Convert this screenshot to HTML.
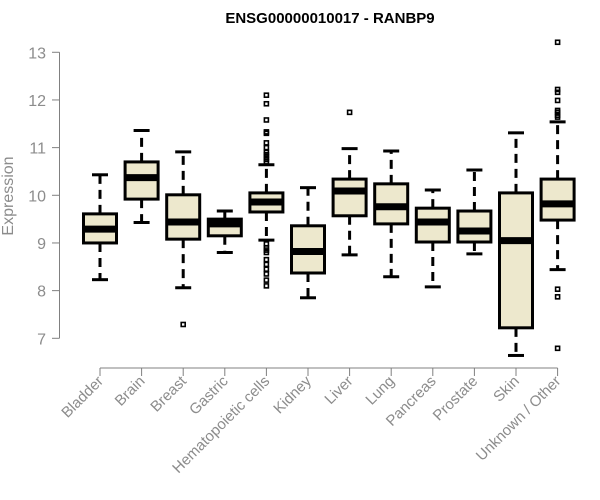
<!DOCTYPE html>
<html><head><meta charset="utf-8"><style>
html,body{margin:0;padding:0;background:#fff;}
svg{display:block;font-family:"Liberation Sans",Arial,sans-serif;}
</style></head><body>
<svg id="chart" width="600" height="500" viewBox="0 0 600 500">
<text x="330" y="23" text-anchor="middle" font-size="15" font-weight="bold" fill="#000">ENSG00000010017 - RANBP9</text>
<text transform="translate(13,196) rotate(-90)" text-anchor="middle" font-size="16" fill="#8c8c8c">Expression</text>
<g id="yaxis"></g>
<g id="xaxis"></g>
<g id="boxes"></g>
</svg>
<script>
const categories=["Bladder","Brain","Breast","Gastric","Hematopoietic cells","Kidney","Liver","Lung","Pancreas","Prostate","Skin","Unknown / Other"];
const lowerWhisker=[8.23,9.43,8.06,8.80,9.06,7.85,8.75,8.29,8.08,8.77,6.64,8.44];
const q1=[9.00,9.92,9.08,9.15,9.65,8.37,9.57,9.40,9.02,9.02,7.22,9.48];
const medians=[9.29,10.37,9.44,9.40,9.86,8.82,10.09,9.76,9.44,9.25,9.05,9.82];
const q3=[9.61,10.70,10.01,9.50,10.05,9.36,10.34,10.24,9.73,9.67,10.05,10.34];
const upperWhisker=[10.43,11.36,10.91,9.67,10.64,10.16,10.98,10.93,10.11,10.53,11.31,11.54];
const outliers=[[],[],[7.29],[],[12.1,11.92,11.58,11.33,11.30,11.1,11.0,10.9,10.85,10.8,10.75,10.7,8.98,8.9,8.85,8.8,8.65,8.55,8.45,8.35,8.22,8.1],[],[11.74],[],[],[],[],[13.21,12.22,12.16,11.99,11.78,11.74,11.68,11.64,8.03,7.87,6.79]];
const yTicks=[7,8,9,10,11,12,13];

const NS="http://www.w3.org/2000/svg";
function y(v){return 338.3-(v-7)*47.67;}
function x(i){return 100+i*41.6;}
function mk(tag,attrs,parent){const e=document.createElementNS(NS,tag);for(const k in attrs)e.setAttribute(k,attrs[k]);parent.appendChild(e);return e;}
const ya=document.getElementById('yaxis'),xa=document.getElementById('xaxis'),bx=document.getElementById('boxes');
mk('line',{x1:59.5,x2:59.5,y1:y(7),y2:y(13),stroke:'#808080','stroke-width':1},ya);
yTicks.forEach(t=>{
  const l=mk('line',{x1:52,x2:59.5,y1:y(t),y2:y(t),stroke:'#808080'},ya);
  
  
  const tx=mk('text',{x:46,y:y(t)+6,'text-anchor':'end','font-size':16,fill:'#8c8c8c'},ya);
  tx.textContent=t;
  
  
});
mk('line',{x1:x(0),x2:x(categories.length-1),y1:368,y2:368,stroke:'#808080'},xa);
categories.forEach((c,i)=>{
  const cx=x(i);
  const t=mk('line',{x1:cx,x2:cx,y1:368,y2:376,stroke:'#808080'},xa);
  
  
  const tx=mk('text',{transform:`translate(${cx+4},${382}) rotate(-45)`,'text-anchor':'end','font-size':15,fill:'#8c8c8c'},xa);
  tx.textContent=c;
  
  
  const g=mk('g',{},bx);
  
  
  const hw=16.5;
  mk('line',{x1:cx,x2:cx,y1:y(q3[i]),y2:y(upperWhisker[i]),stroke:'#000','stroke-width':3,'stroke-dasharray':'9,6'},g);
  mk('line',{x1:cx,x2:cx,y1:y(q1[i]),y2:y(lowerWhisker[i]),stroke:'#000','stroke-width':3,'stroke-dasharray':'9,6'},g);
  mk('line',{x1:cx-8,x2:cx+8,y1:y(upperWhisker[i]),y2:y(upperWhisker[i]),stroke:'#000','stroke-width':3},g);
  mk('line',{x1:cx-8,x2:cx+8,y1:y(lowerWhisker[i]),y2:y(lowerWhisker[i]),stroke:'#000','stroke-width':3},g);
  mk('rect',{x:cx-hw,y:y(q3[i]),width:hw*2,height:y(q1[i])-y(q3[i]),fill:'#ede8cd',stroke:'#000','stroke-width':3},g);
  mk('line',{x1:cx-hw,x2:cx+hw,y1:y(medians[i]),y2:y(medians[i]),stroke:'#000','stroke-width':7},g);
  outliers[i].forEach(v=>{
    const p=mk('rect',{x:cx-2,y:y(v)-2,width:4,height:4,fill:'none',stroke:'#000','stroke-width':1.6},g);
    
    
  });
});
</script>
</body></html>
